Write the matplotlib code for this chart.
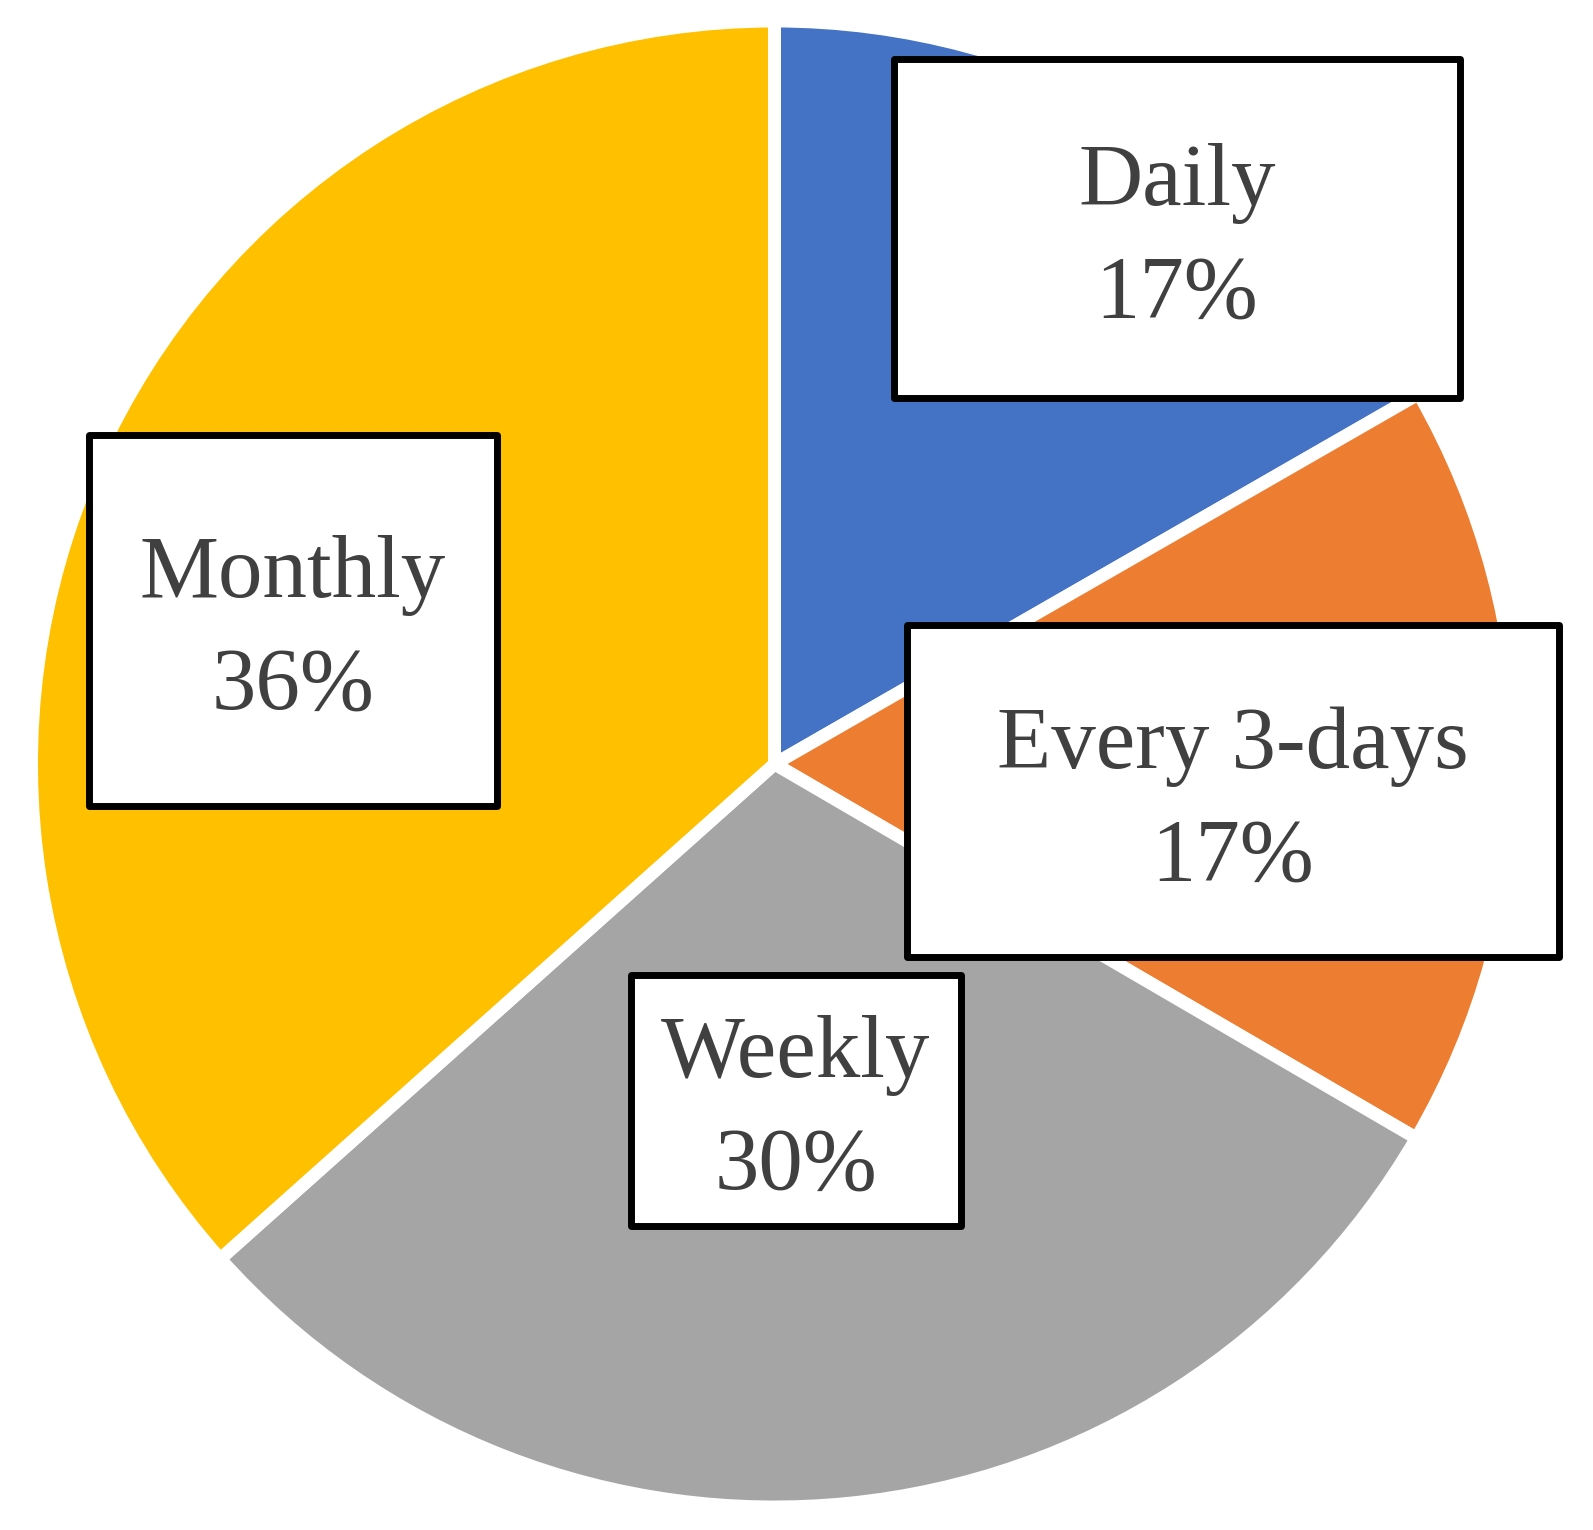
import matplotlib
matplotlib.use("Agg")
import matplotlib.pyplot as plt
from matplotlib.patches import Rectangle

categories = ["Daily", "Every 3-days", "Weekly", "Monthly"]
shares = [16.7, 16.7, 30.0, 36.6]
pct_labels = ["17%", "17%", "30%", "36%"]
colors = ["#4472C4", "#ED7D31", "#A5A5A5", "#FFC000"]

W, H = 1593, 1530
fig = plt.figure(figsize=(W / 100, H / 100), dpi=100)
ax = fig.add_axes([0, 0, 1, 1])

cx, cy, r = 774.5, H - 764, 743
ax.pie(shares, colors=colors, startangle=90, counterclock=False,
       center=(cx, cy), radius=r, frame=True,
       wedgeprops=dict(edgecolor="white", linewidth=9.3))
ax.set_xlim(0, W)
ax.set_ylim(0, H)
ax.set_aspect("equal")
ax.axis("off")

# label boxes (pixel layout: left, top, right, bottom)
boxes = [(894, 59, 1460, 398), (907, 625, 1559, 957),
         (631, 975, 961, 1226), (89, 435, 497, 806)]
for cat, lab, (l, t, rr, b) in zip(categories, pct_labels, boxes):
    ax.add_patch(Rectangle((l, H - b), rr - l, b - t, facecolor="white",
                           edgecolor="black", linewidth=5, zorder=5,
                           joinstyle="round"))
    ax.text((l + rr) / 2, H - (t + b) / 2 - 11, f"{cat}\n{lab}",
            ha="center", va="center", fontsize=64, color="#404040",
            family="Liberation Serif", linespacing=1.5, zorder=6)

fig.savefig("out.png", dpi=100, facecolor="white")
